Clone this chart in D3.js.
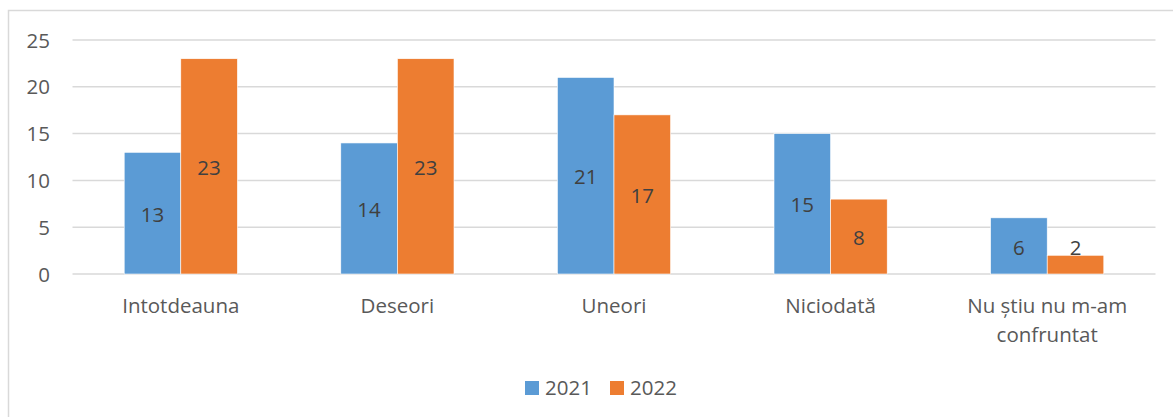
<!DOCTYPE html>
<html>
<head>
<meta charset="utf-8">
<script src="https://cdn.jsdelivr.net/npm/d3@7"></script>
<style>
  body { margin: 0; background: #fff; }
  svg { display: block; font-family: "Open Sans", sans-serif; }
</style>
</head>
<body>
<svg id="chart" width="1173" height="417"></svg>
<script>
// donnees
const categories = ["Intotdeauna", "Deseori", "Uneori", "Niciodată", "Nu știu nu m-am confruntat"];
const labelLines = [["Intotdeauna"], ["Deseori"], ["Uneori"], ["Niciodată"], ["Nu știu nu m-am", "confruntat"]];
const series = ["2021", "2022"];
const values2021 = [13, 14, 21, 15, 6];
const values2022 = [23, 23, 17, 8, 2];
const yTicks = [0, 5, 10, 15, 20, 25];
const colors = ["#5B9BD5", "#ED7D31"];

const svg = d3.select("#chart");

// cadre du graphique
svg.append("rect")
  .attr("x", 8.5).attr("y", 10.5)
  .attr("width", 1200).attr("height", 450)
  .attr("fill", "none").attr("stroke", "#D9D9D9").attr("stroke-width", 1.5);

const x0 = d3.scaleBand().domain(categories).range([72.5, 1155.5]);
const x1 = d3.scaleBand().domain(series).range([0, 113.2]);
const y = d3.scaleLinear().domain([0, 25]).range([274, 40]);

// grille
svg.append("g")
  .selectAll("line")
  .data(yTicks)
  .enter()
  .append("line")
  .attr("x1", 72.5).attr("x2", 1155.5)
  .attr("y1", d => y(d)).attr("y2", d => y(d))
  .attr("stroke", "#D9D9D9").attr("stroke-width", 1.5);

// axe Y (labels seulement)
const yAxis = svg.append("g")
  .attr("transform", "translate(50,0)")
  .call(d3.axisLeft(y).tickValues(yTicks).tickSize(0).tickPadding(0));
yAxis.select(".domain").remove();
yAxis.selectAll("text")
  .attr("font-family", "Open Sans").attr("font-size", 20.5)
  .attr("fill", "#595959").attr("dy", "0.35em");

// barres
const rows = categories.map((c, i) => ({ cat: c, vals: [values2021[i], values2022[i]] }));

const groups = svg.selectAll(".cat")
  .data(rows)
  .enter()
  .append("g")
  .attr("class", "cat")
  .attr("transform", d => `translate(${x0(d.cat) + x0.bandwidth() / 2 - 56.6},0)`);

groups.selectAll("rect")
  .data(d => d.vals.map((v, j) => ({ s: series[j], v: v, j: j })))
  .enter()
  .append("rect")
  .attr("x", d => x1(d.s))
  .attr("y", d => y(d.v))
  .attr("width", x1.bandwidth())
  .attr("height", d => y(0) - y(d.v))
  .attr("fill", d => colors[d.j])
  .attr("stroke", "#fff").attr("stroke-width", 0.6);

groups.selectAll(".lbl")
  .data(d => d.vals.map((v, j) => ({ s: series[j], v: v })))
  .enter()
  .append("text")
  .attr("class", "lbl")
  .attr("x", d => x1(d.s) + x1.bandwidth() / 2)
  .attr("y", d => Math.min((y(d.v) + y(0)) / 2 + 1.5, y(0) - 26))
  .attr("dy", "0.35em")
  .attr("text-anchor", "middle")
  .attr("font-size", 20.5)
  .attr("fill", "#404040")
  .text(d => d.v);

// labels des categories
const catLabels = svg.append("g")
  .selectAll("text")
  .data(categories)
  .enter()
  .append("text")
  .attr("x", d => x0(d) + x0.bandwidth() / 2)
  .attr("y", 313)
  .attr("text-anchor", "middle")
  .attr("font-size", 20.5)
  .attr("fill", "#595959");

catLabels.selectAll("tspan")
  .data((d, i) => labelLines[i])
  .enter()
  .append("tspan")
  .attr("x", function() { return this.parentNode.getAttribute("x"); })
  .attr("dy", (d, i) => i === 0 ? 0 : 28.5)
  .text(d => d);

// legende
const legendX = [525, 610];
const legend = svg.append("g")
  .selectAll("g")
  .data(series)
  .enter()
  .append("g")
  .attr("transform", (d, i) => `translate(${legendX[i]},0)`);

legend.append("rect")
  .attr("x", 0).attr("y", 381)
  .attr("width", 14).attr("height", 14)
  .attr("fill", (d, i) => colors[i]);

legend.append("text")
  .attr("x", 20).attr("y", 395)
  .attr("font-size", 20.5)
  .attr("fill", "#595959")
  .text(d => d);
</script>
</body>
</html>
